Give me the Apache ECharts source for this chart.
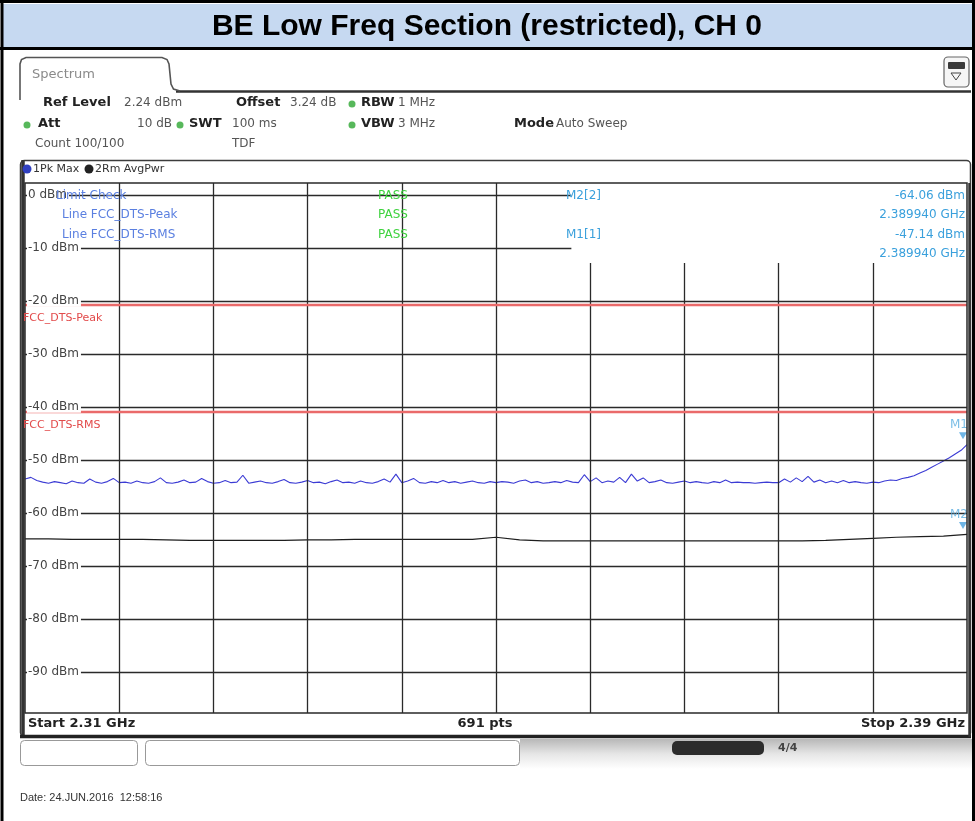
<!DOCTYPE html>
<html><head><meta charset="utf-8">
<script src="https://cdn.jsdelivr.net/npm/echarts@6/dist/echarts.min.js"></script>
<style>html,body{margin:0;padding:0;background:#fff}#c{width:975px;height:821px}</style>
</head><body><div id="c"></div>
<script>
// ---------------- data ----------------
const TITLE = 'BE Low Freq Section (restricted), CH 0';
const START_LABEL = 'Start 2.31 GHz';
const STOP_LABEL = 'Stop 2.39 GHz';
const POINTS_LABEL = '691 pts';
const SPAN_MHZ = 80;              // 2.31 GHz .. 2.39 GHz
const REF_LEVEL = 2.24;           // dBm, top of diagram
const RANGE_DB = 100;
const GRID_LEVELS = [0, -10, -20, -30, -40, -50, -60, -70, -80, -90];
const GRID_FREQS = [8, 16, 24, 32, 40, 48, 56, 64, 72];
const LIMITS = [
  {name: 'FCC_DTS-Peak', level: -20.8},
  {name: 'FCC_DTS-RMS', level: -40.9}
];
// Trace 1: 1Pk Max, sampled every 0.5 MHz from 2.31 GHz
const PEAK_STEP = 0.5;
const PEAK_TRACE = [
  -53.6,-53.3,-53.9,-54.2,-54.4,-54.1,-54.3,-54.5,-54.0,-54.3,-54.4,-53.6,-54.2,-54.4,-54.1,-53.5,-54.3,-54.2,-54.4,-54.0,-54.3,
  -54.4,-54.1,-53.4,-54.3,-54.4,-54.2,-53.8,-54.3,-54.2,-53.5,-54.1,-54.4,-54.3,-53.9,-54.3,-54.2,-52.9,-54.4,-54.2,-54.0,
  -54.3,-54.4,-54.1,-53.7,-54.3,-54.4,-54.2,-53.9,-54.3,-54.2,-54.5,-54.1,-53.8,-54.3,-54.2,-54.4,-54.0,-54.3,-54.4,-54.1,
  -53.6,-54.2,-52.7,-54.3,-54.0,-53.5,-54.3,-54.4,-54.1,-54.3,-53.9,-54.3,-54.1,-54.4,-54.2,-54.0,-54.3,-54.4,-54.1,-54.3,
  -54.1,-54.2,-54.4,-54.0,-53.8,-54.3,-54.1,-54.4,-54.3,-54.1,-54.3,-53.9,-54.2,-54.3,-52.8,-54.1,-53.4,-54.3,-54.0,-54.2,
  -53.3,-54.3,-52.7,-54.0,-53.4,-54.3,-54.1,-53.8,-54.3,-54.4,-54.2,-54.0,-54.3,-54.1,-54.3,-54.4,-54.1,-54.3,-53.8,-54.3,
  -54.2,-54.3,-54.3,-54.4,-54.3,-54.2,-54.3,-54.3,-53.6,-54.2,-53.4,-54.1,-53.1,-54.2,-53.8,-54.3,-54.0,-54.3,-53.9,-54.3,
  -54.1,-54.3,-54.4,-54.2,-54.3,-54.0,-53.8,-53.9,-53.5,-53.3,-53.0,-52.5,-52.0,-51.4,-50.8,-50.2,-49.6,-48.9,-48.2,-47.14
];
// Trace 2: 2Rm AvgPwr, sampled every 2 MHz
const AVG_STEP = 2;
const AVG_TRACE = [
  -64.9,-64.9,-65.0,-65.0,-65.0,-65.0,-65.1,-65.2,-65.2,-65.2,-65.2,
  -65.2,-65.1,-65.1,-65.0,-65.0,-65.0,-65.0,-65.0,-65.0,-64.6,
  -65.1,-65.3,-65.3,-65.3,-65.3,-65.3,-65.3,-65.3,-65.3,-65.3,
  -65.3,-65.3,-65.3,-65.2,-65.0,-64.8,-64.6,-64.5,-64.4,-64.06
];
const MARKERS = [
  {name: 'M1', trace: 1, freqText: '2.389940 GHz', freq: 80, level: -47.14},
  {name: 'M2', trace: 2, freqText: '2.389940 GHz', freq: 80, level: -64.06}
];

// ---------------- chart ----------------
const X0 = 25, X1 = 967, Y0 = 183, Y1 = 713;
const chart = echarts.init(document.getElementById('c'), null, {renderer: 'canvas', width: 975, height: 821});
const YMIN = REF_LEVEL - RANGE_DB, YMAX = REF_LEVEL;
const MARKER_BOX_BOTTOM = -12.85;  // dBm where marker info box ends
const MARKER_BOX_LEFT = 46.4;      // MHz where marker info box starts

const gridSegs = [];
GRID_LEVELS.forEach(v => {
  const end = v > -20 ? MARKER_BOX_LEFT : SPAN_MHZ;
  gridSegs.push([{coord: [0, v]}, {coord: [end, v]}]);
});
GRID_FREQS.forEach(f => {
  const top = f > 40 ? MARKER_BOX_BOTTOM : YMAX;
  gridSegs.push([{coord: [f, top]}, {coord: [f, YMIN]}]);
});

const FONT = '"DejaVu Sans", "Liberation Sans", sans-serif';

chart.setOption({
  animation: false,
  backgroundColor: '#ffffff',
  grid: {left: X0, top: Y0, width: X1 - X0, height: Y1 - Y0, show: false},
  xAxis: {type: 'value', min: 0, max: SPAN_MHZ, interval: 8,
    axisLine: {show: false}, axisTick: {show: false}, axisLabel: {show: false}, splitLine: {show: false}},
  yAxis: {type: 'value', min: YMIN, max: YMAX,
    axisLine: {show: false}, axisTick: {show: false}, axisLabel: {show: false}, splitLine: {show: false}},
  series: [
    {
      name: '2Rm AvgPwr', type: 'line', z: 2, showSymbol: false, silent: true,
      data: AVG_TRACE.map((v, i) => [i * AVG_STEP, v]),
      lineStyle: {color: '#1e1e1e', width: 1.2},
      markLine: {
        silent: true, symbol: ['none', 'none'], label: {show: false},
        lineStyle: {color: '#2a2a2a', width: 1.3, type: 'solid'},
        emphasis: {disabled: true},
        data: gridSegs
      }
    },
    {
      name: '1Pk Max', type: 'line', z: 4, showSymbol: false, silent: true,
      data: PEAK_TRACE.map((v, i) => [i * PEAK_STEP, v]),
      lineStyle: {color: '#3b3bd4', width: 1.1},
      markLine: {
        silent: true, symbol: ['none', 'none'], label: {show: false},
        lineStyle: {color: '#ea6a6a', width: 2.4, type: 'solid'},
        emphasis: {disabled: true},
        data: LIMITS.map(l => ({yAxis: l.level}))
      }
    },
    {
      name: 'markers', type: 'scatter', z: 6, silent: true, clip: false,
      data: MARKERS.map(m => ({value: [m.freq, m.level], name: m.name})),
      symbol: 'triangle', symbolRotate: 180, symbolSize: [8, 7], symbolOffset: [-4, -9],
      itemStyle: {color: '#4aa3df'},
      label: {show: true, position: 'top', distance: 1, offset: [-4, 0], formatter: p => p.name,
        color: '#5aaee0', fontSize: 12, fontFamily: FONT}
    }
  ]
});

function px(f, v) { return chart.convertToPixel({gridIndex: 0}, [f, v]); }
function txt(x, y, s, o) {
  o = o || {};
  const st = {text: s, fill: o.fill || '#333', font: (o.bold ? 'bold ' : '') + (o.size || 12) + 'px ' + (o.family || FONT),
      textAlign: o.align || 'left', textVerticalAlign: 'middle'};
  if (o.bg) { st.backgroundColor = o.bg; st.padding = o.pad; }
  return {type: 'text', z: o.z || 50, x: x, y: y, silent: true, style: st};
}
function dot(x, y, r, c) { return {type: 'circle', z: 50, silent: true, shape: {cx: x, cy: y, r: r}, style: {fill: c}}; }
function line(x1, y1, x2, y2, c, w, z) { return {type: 'line', z: z || 40, silent: true, shape: {x1: x1, y1: y1, x2: x2, y2: y2}, style: {stroke: c, lineWidth: w}}; }

const G = [];
// page frame and title band
G.push({type: 'rect', z: 1, silent: true, shape: {x: 3, y: 4, width: 969, height: 43}, style: {fill: '#c6d9f1'}});
G.push(line(0, 1.5, 975, 1.5, '#000', 3, 60));
G.push(line(0, 48.5, 975, 48.5, '#000', 3, 60));
G.push(line(2, 0, 2, 821, '#000', 3, 60));
G.push(line(973.5, 0, 973.5, 821, '#000', 3, 60));
G.push(txt(487, 27, TITLE, {bold: true, size: 30, family: '"Liberation Sans", Arial, sans-serif', align: 'center', fill: '#000'}));

// spectrum tab
G.push({type: 'polyline', z: 45, silent: true,
  shape: {points: [[20, 100], [20, 64], [21.5, 59.5], [26, 57.5], [162, 57.5], [167, 59.5], [169, 64], [171, 84], [173.5, 89], [180, 91]]},
  style: {stroke: '#555', lineWidth: 1.6, fill: null}});
G.push(line(176, 91.5, 971, 91.5, '#333', 2.4, 44));
G.push(txt(32, 75, 'Spectrum', {size: 13, fill: '#8a8a8a'}));
// right icon
G.push({type: 'rect', z: 45, silent: true, shape: {x: 944, y: 57, width: 25, height: 30, r: 4}, style: {fill: '#f6f6f6', stroke: '#666', lineWidth: 1.2}});
G.push({type: 'rect', z: 46, silent: true, shape: {x: 948, y: 62, width: 17, height: 7, r: 1}, style: {fill: '#3a3a3a'}});
G.push({type: 'polygon', z: 46, silent: true, shape: {points: [[951, 73], [961, 73], [956, 80]]}, style: {fill: '#f6f6f6', stroke: '#444', lineWidth: 1}});

// settings rows
const GR = '#57b85b';
G.push(txt(43, 103, 'Ref Level', {bold: true, size: 13, fill: '#222'}));
G.push(txt(124, 103, '2.24 dBm', {size: 12, fill: '#555'}));
G.push(txt(236, 103, 'Offset', {bold: true, size: 13, fill: '#222'}));
G.push(txt(290, 103, '3.24 dB', {size: 12, fill: '#555'}));
G.push(dot(352, 104, 3.5, GR));
G.push(txt(361, 103, 'RBW', {bold: true, size: 13, fill: '#222'}));
G.push(txt(398, 103, '1 MHz', {size: 12, fill: '#555'}));

G.push(dot(27, 125, 3.5, GR));
G.push(txt(38, 124, 'Att', {bold: true, size: 13, fill: '#222'}));
G.push(txt(172, 124, '10 dB', {size: 12, fill: '#555', align: 'right'}));
G.push(dot(180, 125, 3.5, GR));
G.push(txt(189, 124, 'SWT', {bold: true, size: 13, fill: '#222'}));
G.push(txt(232, 124, '100 ms', {size: 12, fill: '#555'}));
G.push(dot(352, 125, 3.5, GR));
G.push(txt(361, 124, 'VBW', {bold: true, size: 13, fill: '#222'}));
G.push(txt(398, 124, '3 MHz', {size: 12, fill: '#555'}));
G.push(txt(514, 124, 'Mode', {bold: true, size: 13, fill: '#222'}));
G.push(txt(556, 124, 'Auto Sweep', {size: 12, fill: '#555'}));

G.push(txt(35, 144, 'Count 100/100', {size: 12, fill: '#555'}));
G.push(txt(232, 144, 'TDF', {size: 12, fill: '#555'}));

// diagram panel
G.push({type: 'rect', z: 45, silent: true, shape: {x: 20.5, y: 160.5, width: 950, height: 576, r: 4}, style: {fill: null, stroke: '#3c3c3c', lineWidth: 1.5}});
G.push(dot(27, 169, 4.5, '#3040c0'));
G.push(txt(33, 169, '1Pk Max', {size: 11, fill: '#333'}));
G.push(dot(89, 169, 4.5, '#222'));
G.push(txt(95, 169, '2Rm AvgPwr', {size: 11, fill: '#333'}));
G.push({type: 'rect', z: 45, silent: true, shape: {x: X0, y: Y0, width: X1 - X0, height: Y1 - Y0}, style: {fill: null, stroke: '#2a2a2a', lineWidth: 1.5}});
G.push(line(23, 160, 23, 737, '#333', 3.5, 46));
G.push(line(20, 736.5, 971, 736.5, '#222', 3.5, 46));
G.push(line(969.5, 183, 969.5, 737, '#333', 2.5, 46));

// footer
G.push(txt(28, 724, START_LABEL, {bold: true, size: 13, fill: '#222'}));
G.push(txt(485, 724, POINTS_LABEL, {bold: true, size: 13, fill: '#222', align: 'center'}));
G.push(txt(965, 724, STOP_LABEL, {bold: true, size: 13, fill: '#222', align: 'right'}));

// soft keys / status bar
G.push({type: 'rect', z: 30, silent: true, shape: {x: 520, y: 739, width: 453, height: 30},
  style: {fill: {type: 'linear', x: 0, y: 0, x2: 0, y2: 1, colorStops: [{offset: 0, color: '#b8b8b8'}, {offset: 0.5, color: '#e6e6e6'}, {offset: 1, color: '#ffffff'}]}}});
G.push({type: 'rect', z: 45, silent: true, shape: {x: 20.5, y: 740.5, width: 117, height: 25, r: 4}, style: {fill: '#fff', stroke: '#999', lineWidth: 1}});
G.push({type: 'rect', z: 45, silent: true, shape: {x: 145.5, y: 740.5, width: 374, height: 25, r: 4}, style: {fill: '#fff', stroke: '#999', lineWidth: 1}});
G.push({type: 'rect', z: 45, silent: true, shape: {x: 672, y: 741, width: 92, height: 14, r: 5}, style: {fill: '#2c2c2c'}});
G.push(txt(778, 748, '4/4', {bold: true, size: 11, fill: '#444'}));
G.push(txt(20, 798, 'Date: 24.JUN.2016  12:58:16', {size: 11, fill: '#333', family: '"Liberation Sans", Arial, sans-serif'}));

// limit check block
const LC = '#5a7fe0';
G.push(txt(56, 196, 'Limit Check', {size: 12, fill: LC, z: 60}));
G.push(txt(62, 215, 'Line ' + LIMITS[0].name, {size: 12, fill: LC, z: 60}));
G.push(txt(62, 235, 'Line ' + LIMITS[1].name, {size: 12, fill: LC, z: 60}));
[196, 215, 235].forEach(y => G.push(txt(378, y, 'PASS', {size: 12, fill: '#3fd23f', z: 60})));

// marker info
const MC = '#3aa0dc';
const m1 = MARKERS[0], m2 = MARKERS[1];
G.push(txt(566, 196, m2.name + '[' + m2.trace + ']', {size: 12, fill: MC, z: 60}));
G.push(txt(965, 196, m2.level.toFixed(2) + ' dBm', {size: 12, fill: MC, align: 'right', z: 60}));
G.push(txt(965, 215, m2.freqText, {size: 12, fill: MC, align: 'right', z: 60}));
G.push(txt(566, 235, m1.name + '[' + m1.trace + ']', {size: 12, fill: MC, z: 60}));
G.push(txt(965, 235, m1.level.toFixed(2) + ' dBm', {size: 12, fill: MC, align: 'right', z: 60}));
G.push(txt(965, 254, m1.freqText, {size: 12, fill: MC, align: 'right', z: 60}));

// grid level labels
GRID_LEVELS.forEach(v => {
  const p = px(0, v);
  G.push(txt(p[0] + 2, p[1], v + ' dBm', {size: 12, fill: '#444', bg: '#fff', pad: [0, 2, 0, 1], z: 55}));
});
// limit line labels
LIMITS.forEach(l => {
  const p = px(0, l.level);
  G.push(txt(p[0] - 2, p[1] + 13, l.name, {size: 11, fill: '#e24a4a', z: 55}));
});

chart.setOption({graphic: G});
</script>
</body></html>
